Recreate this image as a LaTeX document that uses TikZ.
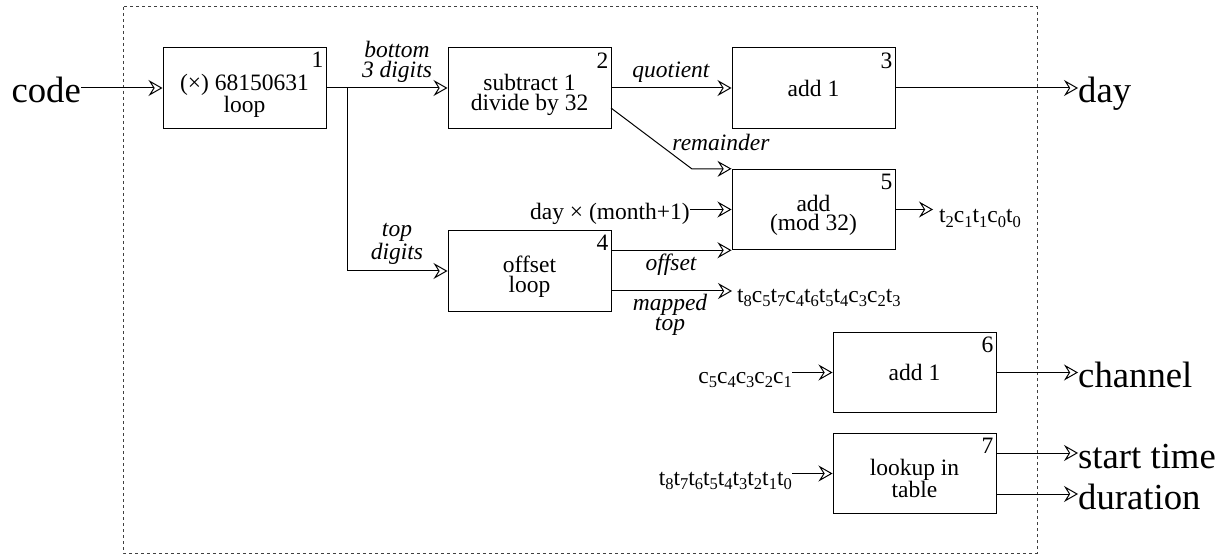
\documentclass[tikz,border=0pt]{standalone}
\usepackage{fontspec}
\setmainfont{Liberation Serif}
\usetikzlibrary{arrows.meta}
\newcommand\subdig[1]{\raisebox{-0.2em}{\fontsize{16.5}{16.5}\selectfont #1}}
\tikzset{
  box/.style={draw, line width=1pt, minimum width=163pt, minimum height=80.5pt, inner sep=0pt, align=center, font=\fontsize{23.5}{20}\selectfont},
  boxtxt/.style={anchor=north, align=center, inner sep=0pt, font=\fontsize{23.5}{19.5}\selectfont},
  num/.style={anchor=north east, inner xsep=3pt, inner ysep=5pt, font=\fontsize{23.5}{20}\selectfont},
  lbl/.style={align=center, inner sep=0pt, font=\fontsize{23.5}{20}\selectfont\itshape},
  small/.style={inner sep=0pt, font=\fontsize{23.5}{20}\selectfont},
  big/.style={inner sep=0pt, font=\fontsize{36.7}{40}\selectfont},
  arr/.style={line width=1pt, -{Stealth[open, length=14pt, width=16pt, inset=5pt, line width=1pt]}},
  frame/.style={draw=black!75, line width=1pt, dash pattern=on 3pt off 3pt}
}
\begin{document}
\begin{tikzpicture}[x=1pt, y=-1pt]
\useasboundingbox (0,0) rectangle (1227,556);
\draw[frame] (123,7) rectangle (1037,553);
% boxes
\node[box] (b1) at (244.5,88) {};
\node[boxtxt] (b1t) at ([yshift=14pt]b1.center) {(×) 68150631\\loop};
\node[num] at (b1.north east) {1};
\node[box] (b2) at (529.5,88) {};
\node[boxtxt] (b2t) at ([yshift=14pt]b2.center) {subtract 1\\divide by 32};
\node[num] at (b2.north east) {2};
\node[box] (b3) at (813.5,88) {add 1};
\node[num] at (b3.north east) {3};
\node[box] (b4) at (529.5,271) {};
\node[boxtxt] (b4t) at ([yshift=15pt]b4.center) {offset\\loop};
\node[num] at (b4.north east) {4};
\node[box] (b5) at (813.5,209.5) {};
\node[boxtxt] (b5t) at ([yshift=15pt]b5.center) {add\\(mod 32)};
\node[num] at (b5.north east) {5};
\node[box] (b6) at (914.5,372.5) {add 1};
\node[num] at (b6.north east) {6};
\node[box] (b7) at (914.5,473.5) {};
\node[boxtxt] (b7t) at ([yshift=15pt]b7.center) {lookup in\\table};
\node[num] at (b7.north east) {7};
% outer labels
\node[big, anchor=base east] (code) at (81,103) {code};
\node[big, anchor=base west] (day) at (1078,103) {day};
\node[big, anchor=base west] (ch) at (1078,387) {channel};
\node[big, anchor=base west] (st) at (1078,468) {start time};
\node[big, anchor=base west] (du) at (1078,509) {duration};
% small texts
\node[small, anchor=base east] (dm) at (690,220) {day × (month+1)};
\node[small, anchor=base west, inner xsep=5pt] (mt) at (732,302) {t\subdig{8}c\subdig{5}t\subdig{7}c\subdig{4}t\subdig{6}t\subdig{5}t\subdig{4}c\subdig{3}c\subdig{2}t\subdig{3}};
\node[small, anchor=base west, inner xsep=6pt] (t5) at (933,223) {t\subdig{2}c\subdig{1}t\subdig{1}c\subdig{0}t\subdig{0}};
\node[small, anchor=base east] (cin) at (792,383) {c\subdig{5}c\subdig{4}c\subdig{3}c\subdig{2}c\subdig{1}};
\node[small, anchor=base east] (tin) at (792,485) {t\subdig{8}t\subdig{7}t\subdig{6}t\subdig{5}t\subdig{4}t\subdig{3}t\subdig{2}t\subdig{1}t\subdig{0}};
% italic labels
\node[lbl] (lb) at (397,62) {bottom\\3 digits};
\node[lbl] (lq) at (671,72) {quotient};
\node[lbl] (lr) at (721,142) {remainder};
\node[lbl] (lt) at (397,244) {top\\digits};
\node[lbl] (lo) at (671,265) {offset};
\node[lbl] (lm) at (670,315) {mapped\\top};
% connectors
\coordinate (j) at (347,88);
\draw[arr] (b1.west -| code.east) -- (b1.west);
\draw[arr] (b1.east) -- (b2.west);
\draw[arr] (j) |- (b4.west);
\draw[arr] (b2.east) -- (b3.west);
\draw[arr] (b3.east) -- (b3.east -| day.west);
\coordinate (rs) at (611,108);
\coordinate (rk) at (692,169);
\draw[arr] (rs) -- (rk) -- (b5.north west);
\draw[arr] (b5.west -| dm.east) -- (b5.west);
\draw[arr] (b4.east |- b5.south west) -- (b5.south west);
\coordinate (m0) at (611,291);
\draw[arr] (m0) -- (m0 -| mt.west);
\draw[arr] (b5.east) -- (b5.east -| t5.west);
\draw[arr] (b6.west -| cin.east) -- (b6.west);
\draw[arr] (b7.west -| tin.east) -- (b7.west);
\draw[arr] (b6.east) -- (b6.east -| ch.west);
\coordinate (o1) at (996,453);
\coordinate (o2) at (996,494);
\draw[arr] (o1) -- (o1 -| st.west);
\draw[arr] (o2) -- (o2 -| du.west);
\end{tikzpicture}
\end{document}
